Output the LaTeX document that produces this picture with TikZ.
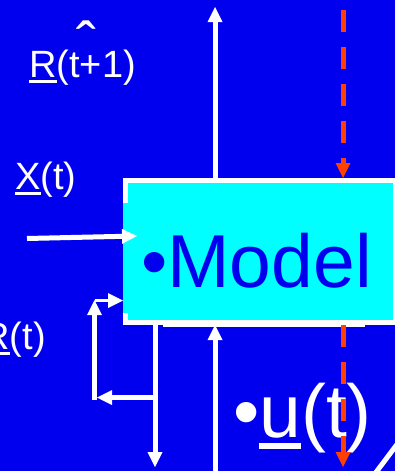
\documentclass[tikz,border=0pt]{standalone}
\usepackage{fontspec}
\setmainfont{Liberation Sans}
\usetikzlibrary{arrows.meta,calc}
\definecolor{bgblue}{RGB}{0,0,238}
\definecolor{boxcyan}{RGB}{0,255,255}
\definecolor{dashred}{RGB}{255,64,0}
\newcommand{\myul}[1]{\setbox0\hbox{#1}\rlap{\rule[-0.16em]{\wd0}{0.08em}}\box0}
\newcommand{\lblfont}{\fontsize{38}{40}\selectfont}
\newcommand{\bigfont}{\fontsize{75}{78}\selectfont}
\tikzset{
  warr/.style={draw=white, line width=5pt, -{Triangle[length=15pt,width=15pt,line width=0pt]}},
  rarr/.style={draw=dashred, line width=5pt, dash pattern=on 21.5pt off 15.5pt, -{Triangle[length=15pt,width=15pt,line width=0pt]}},
  lbl/.style={inner sep=0pt, text=white, font=\lblfont},
  biglbl/.style={inner sep=0pt, font=\bigfont},
  modelbox/.style={rectangle, draw=white, fill=boxcyan, line width=5pt, minimum width=270pt, minimum height=142pt, inner sep=0pt}
}
\begin{document}
\begin{tikzpicture}[x=1pt,y=-1pt]
\path[use as bounding box, fill=bgblue] (0,0) rectangle (395,471);
\clip (0,0) rectangle (395,471);

% model box
\node[modelbox] (model) at (260.5,251.5) {};
\fill[boxcyan] (123,203) rectangle (128,313);
\fill[white] (163,323) rectangle (365,327);

% white connectors
\coordinate (upend) at (215,7);
\draw[warr] (model.north -| upend) -- (upend);
\coordinate (upstart) at (215,476);
\draw[warr] (upstart) -- (upstart |- model.south);

\coordinate (xin) at (27,238.5);
\draw[warr] (xin) -- ($(model.west)+(14,-15.5)$);

\coordinate (fbend) at (155,467);
\draw[warr] (model.south -| fbend) -- (fbend);
\coordinate (fbsplit) at (155,397.5);
\coordinate (fbleft) at (97,397.5);
\draw[warr] (fbsplit) -- (fbleft);
\coordinate (fbcorner) at (94.5,400);
\coordinate (fbtop) at (94.5,300);
\draw[warr] (fbcorner) -- (fbtop);
\coordinate (fbin) at (94.5,300.5);
\draw[warr, line width=3pt] (fbin) -- (fbin -| model.west);

% diagonal at bottom right
\draw[white, line width=5pt] (373,476.3) -- (399,441.7);

% texts
\node[biglbl, anchor=base west, text=bgblue] (modeltext) at (141,287) {•Model};
\node[biglbl, anchor=base west, text=white] (ulabel) at (233,437) {•\myul{u}(t)};
\node[lbl, anchor=base west] (xlabel) at (15,189) {\myul{X}(t)};
\node[lbl, anchor=base west] (rnext) at (29,77) {\myul{R}(t+1)};
\node[lbl, anchor=base east] (rnow) at (46,349) {\myul{R}(t)};
\node[inner sep=0pt, text=white, font=\fontsize{60}{60}\selectfont, anchor=north] (hat) at (86,21) {ˆ};

% red dashed connectors
\coordinate (rtop) at (343,10);
\draw[rarr] (rtop) -- (rtop |- model.north);
\coordinate (rbot) at (343,467);
\draw[rarr] (model.south -| rbot) -- (rbot);
\end{tikzpicture}
\end{document}
